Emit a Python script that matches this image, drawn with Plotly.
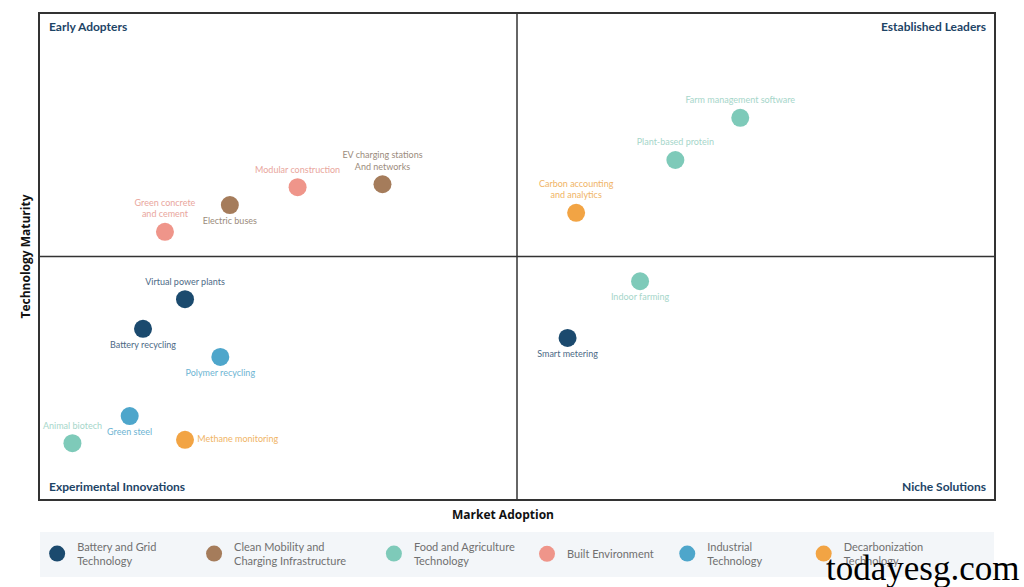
import plotly.graph_objects as go

# ---------------- data ----------------
categories = [
    "Battery and Grid Technology",
    "Clean Mobility and Charging Infrastructure",
    "Food and Agriculture Technology",
    "Built Environment",
    "Industrial Technology",
    "Decarbonization Technology",
]
legend_labels = [
    "Battery and Grid<br>Technology",
    "Clean Mobility and<br>Charging Infrastructure",
    "Food and Agriculture<br>Technology",
    "Built Environment",
    "Industrial<br>Technology",
    "Decarbonization<br>Technology",
]

technologies = [
    "Green concrete<br>and cement",
    "Electric buses",
    "Modular construction",
    "EV charging stations<br>And networks",
    "Carbon accounting<br>and analytics",
    "Plant-based protein",
    "Farm management software",
    "Indoor farming",
    "Smart metering",
    "Virtual power plants",
    "Battery recycling",
    "Polymer recycling",
    "Green steel",
    "Animal biotech",
    "Methane monitoring",
]
market_adoption = [1.31, 1.99, 2.70, 3.59, 5.62, 6.66, 7.34, 6.29, 5.53, 1.52, 1.08, 1.89, 0.94, 0.34, 1.52]
technology_maturity = [5.51, 6.06, 6.43, 6.49, 5.90, 6.99, 7.86, 4.49, 3.32, 4.12, 3.51, 2.93, 1.71, 1.15, 1.22]
tech_category = [
    "Built Environment",
    "Clean Mobility and Charging Infrastructure",
    "Built Environment",
    "Clean Mobility and Charging Infrastructure",
    "Decarbonization Technology",
    "Food and Agriculture Technology",
    "Food and Agriculture Technology",
    "Food and Agriculture Technology",
    "Battery and Grid Technology",
    "Battery and Grid Technology",
    "Battery and Grid Technology",
    "Industrial Technology",
    "Industrial Technology",
    "Food and Agriculture Technology",
    "Decarbonization Technology",
]
quadrant_names = ["Early Adopters", "Established Leaders", "Experimental Innovations", "Niche Solutions"]
x_title = "Market Adoption"
y_title = "Technology Maturity"
watermark = "todayesg.com"
axis_min, axis_mid, axis_max = 0, 5, 10

# ---------------- styles ----------------
marker_colors = {
    "Battery and Grid Technology": "#1b4a6e",
    "Clean Mobility and Charging Infrastructure": "#a57c5b",
    "Food and Agriculture Technology": "#7ecab9",
    "Built Environment": "#ef958a",
    "Industrial Technology": "#4ea6cb",
    "Decarbonization Technology": "#f2a444",
}
label_colors = {
    "Battery and Grid Technology": "#4d6a86",
    "Clean Mobility and Charging Infrastructure": "#9b8b7c",
    "Food and Agriculture Technology": "#a6d6ca",
    "Built Environment": "#e9a69d",
    "Industrial Technology": "#6db4d2",
    "Decarbonization Technology": "#f0b466",
}
label_pos = {
    "Green concrete<br>and cement": "top center",
    "Electric buses": "bottom center",
    "Modular construction": "top center",
    "EV charging stations<br>And networks": "top center",
    "Carbon accounting<br>and analytics": "top center",
    "Plant-based protein": "top center",
    "Farm management software": "top center",
    "Indoor farming": "bottom center",
    "Smart metering": "bottom center",
    "Virtual power plants": "top center",
    "Battery recycling": "bottom center",
    "Polymer recycling": "bottom center",
    "Green steel": "bottom center",
    "Animal biotech": "top center",
    "Methane monitoring": "middle right",
}
# legend box left positions (paper fraction), one legend per category
legend_x = [-0.003, 0.1615, 0.350, 0.5105, 0.6575, 0.8005]
legend_ids = ["legend", "legend2", "legend3", "legend4", "legend5", "legend6"]

fig = go.Figure()
for cat, leg, lid in zip(categories, legend_labels, legend_ids):
    idx = [i for i, c in enumerate(tech_category) if c == cat]
    fig.add_trace(go.Scatter(
        x=[market_adoption[i] for i in idx],
        y=[technology_maturity[i] for i in idx],
        text=[technologies[i] for i in idx],
        textposition=[label_pos[technologies[i]] for i in idx],
        mode="markers+text",
        name=leg,
        legend=lid,
        marker=dict(size=18, color=marker_colors[cat], line=dict(width=0)),
        textfont=dict(family="Lato", size=9, color=label_colors[cat]),
        hoverinfo="text",
    ))

# quadrant divider lines
line_style = dict(color="#333333", width=1.5)
fig.add_shape(type="line", x0=axis_mid, x1=axis_mid, y0=axis_min, y1=axis_max, line=line_style)
fig.add_shape(type="line", x0=axis_min, x1=axis_max, y0=axis_mid, y1=axis_mid, line=line_style)

# legend background
fig.add_shape(type="rect", xref="paper", yref="paper", x0=0, x1=1, y0=-0.161, y1=-0.068,
              fillcolor="#f3f6f9", line=dict(width=0), layer="below")

qfont = dict(family="Lato", size=12, color="#1d4466")
quad_pos = [
    dict(x=0, y=1, xanchor="left", yanchor="top", xshift=7, yshift=-3),
    dict(x=1, y=1, xanchor="right", yanchor="top", xshift=-6, yshift=-3),
    dict(x=0, y=0, xanchor="left", yanchor="bottom", xshift=7, yshift=3),
    dict(x=1, y=0, xanchor="right", yanchor="bottom", xshift=-6, yshift=3),
]
for name, p in zip(quadrant_names, quad_pos):
    fig.add_annotation(text="<b>" + name + "</b>", xref="paper", yref="paper", showarrow=False,
                       font=qfont, **p)

title_font = dict(family="Open Sans", size=12, color="#111111")
fig.add_annotation(text="<b>" + x_title + "</b>", xref="paper", yref="paper", x=0.485, y=-0.031,
                   xanchor="center", yanchor="middle", showarrow=False, font=title_font)
fig.add_annotation(text="<b>" + y_title + "</b>", xref="paper", yref="paper", x=-0.0157, y=0.5,
                   xanchor="center", yanchor="middle", textangle=-90, showarrow=False, font=title_font)

# watermark
fig.add_annotation(text=watermark, xref="paper", yref="paper", x=1.028, y=-0.144,
                   xanchor="right", yanchor="middle", showarrow=False,
                   font=dict(family="Liberation Serif", size=35, color="#000000"))

legend_common = dict(orientation="h", y=-0.113, xanchor="left", yanchor="middle",
                     bgcolor="rgba(0,0,0,0)", itemsizing="trace",
                     font=dict(family="Lato", size=11, color="#707070"))

layout_legends = {lid: dict(x=lx, **legend_common) for lid, lx in zip(legend_ids, legend_x)}

fig.update_layout(
    width=1024, height=587,
    margin=dict(l=40, r=30, t=14, b=88, autoexpand=False),
    plot_bgcolor="white", paper_bgcolor="white",
    showlegend=True,
    xaxis=dict(range=[axis_min, axis_max], showgrid=False, zeroline=False, showticklabels=False,
               ticks="", showline=True, mirror=True, linecolor="#333333", linewidth=1.5),
    yaxis=dict(range=[axis_min, axis_max], showgrid=False, zeroline=False, showticklabels=False,
               ticks="", showline=True, mirror=True, linecolor="#333333", linewidth=1.5),
    **layout_legends,
)

fig.write_html(
    "out.html",
    config={"displayModeBar": False},
    post_script="document.body.style.margin='0';document.body.style.overflow='hidden';",
)
